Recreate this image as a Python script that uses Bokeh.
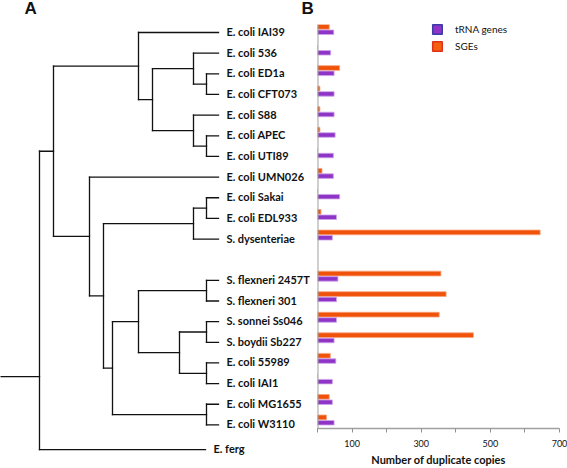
from bokeh.plotting import figure
from bokeh.models import (Range1d, ColumnDataSource, Span, Label, FixedTicker,
                          Legend, LegendItem)
from bokeh.layouts import row
from bokeh.core.properties import value
from bokeh.embed import file_html
from bokeh.resources import INLINE

# ---------------- data ----------------
LEAVES = ["E. coli IAI39", "E. coli 536", "E. coli ED1a", "E. coli CFT073",
          "E. coli S88", "E. coli APEC", "E. coli UTI89", "E. coli UMN026",
          "E. coli Sakai", "E. coli EDL933", "S. dysenteriae",
          "S. flexneri 2457T", "S. flexneri 301", "S. sonnei Ss046",
          "S. boydii Sb227", "E. coli 55989", "E. coli IAI1",
          "E. coli MG1655", "E. coli W3110", "E. ferg"]
ROWS = [0, 1, 2, 3, 4, 5, 6, 7, 8, 9, 10, 12, 13, 14, 15, 16, 17, 18, 19, 20.2]
TIP_DEPTH = [218] * 19 + [205]

# bar chart values (first 19 strains)
TRNA_GENES = [47, 38, 48, 48, 48, 51, 46, 46, 64, 55, 43, 59, 55, 55, 48, 53, 43, 43, 48]
SGES = [34, 0, 64, 7, 7, 7, 0, 13, 0, 10, 644, 357, 372, 352, 451, 37, 0, 34, 26]

X_TICKS = [0, 100, 200, 300, 400, 500, 600, 700]
X_TICK_LABELS = {0: "", 100: "100", 200: "", 300: "300", 400: "", 500: "500", 600: "", 700: "700"}

# tree: (node depth, [children]); leaves are names
TREE = (39, [
    (53, [
        (138, ["E. coli IAI39",
               (152, [
                   (193, ["E. coli 536", (206, ["E. coli ED1a", "E. coli CFT073"])]),
                   (193, ["E. coli S88", (206, ["E. coli APEC", "E. coli UTI89"])]),
               ])]),
        (89, ["E. coli UMN026",
              (103, [
                  (193, [(206, ["E. coli Sakai", "E. coli EDL933"]), "S. dysenteriae"]),
                  (112, [
                      (138, [(206, ["S. flexneri 2457T", "S. flexneri 301"]),
                             (179, [(206, ["S. sonnei Ss046", "S. boydii Sb227"]),
                                    (206, ["E. coli 55989", "E. coli IAI1"])])]),
                      (206, ["E. coli MG1655", "E. coli W3110"]),
                  ]),
              ])]),
    ]),
    "E. ferg",
])
ROOT_STEM_START = 0
ROOT_STEM_ROW = 16.66

# ---------------- tree geometry ----------------
x0s, y0s, x1s, y1s = [], [], [], []


def walk(node):
    if isinstance(node, str):
        i = LEAVES.index(node)
        return ROWS[i], TIP_DEPTH[i]
    depth, children = node
    ys = []
    for c in children:
        cy, cx = walk(c)
        x0s.append(depth); y0s.append(cy); x1s.append(cx); y1s.append(cy)
        ys.append(cy)
    x0s.append(depth); y0s.append(min(ys)); x1s.append(depth); y1s.append(max(ys))
    return (min(ys) + max(ys)) / 2.0, depth


walk(TREE)
x0s.append(ROOT_STEM_START); y0s.append(ROOT_STEM_ROW)
x1s.append(TREE[0]); y1s.append(ROOT_STEM_ROW)

FONT = "Lato"
H = 468

p1 = figure(width=317, height=H, x_range=Range1d(0, 317), y_range=Range1d(21.11, -1.55),
            x_axis_location=None, y_axis_location=None, toolbar_location=None,
            output_backend="svg", min_border=0)
p1.frame_align = False
p1.grid.visible = False
p1.outline_line_color = None
p1.segment(x0=x0s, y0=y0s, x1=x1s, y1=y1s, line_color="#111111", line_width=1.3,
           line_cap="square")
p1.text(x=TIP_DEPTH, y=ROWS, text=LEAVES, x_offset=8, y_offset=-1,
        text_font=value(FONT), text_font_style="bold", text_font_size="11px",
        text_baseline="middle", text_align="left", text_color="#111111")
p1.add_layout(Label(x=24, y=-1.14, text="A", text_font="Liberation Sans",
                    text_font_style="bold", text_font_size="17px",
                    text_baseline="middle", text_color="#111111"))
p1.add_layout(Label(x=301, y=-1.14, text="B", text_font="Liberation Sans",
                    text_font_style="bold", text_font_size="17px",
                    text_baseline="middle", text_color="#111111"))

# ---------------- bar chart ----------------
bar_rows = ROWS[:19]
src = ColumnDataSource(dict(
    y_sge=[r - 0.27 for r in bar_rows],
    y_trna=[r - 0.01 for r in bar_rows],
    sge=SGES, trna=TRNA_GENES))

p2 = figure(width=250, height=H, x_range=Range1d(0, 700), y_range=Range1d(19.27, -0.387),
            y_axis_location=None, toolbar_location=None, output_backend="svg",
            min_border_left=0, min_border_right=8, min_border_top=24, min_border_bottom=38)
p2.frame_align = False
p2.grid.visible = False
p2.outline_line_color = None

p2.hbar(y="y_sge", left=0, right="sge", height=0.23, source=src,
        fill_color="#F0520A", line_color="#F7A27A", line_width=0.8)
p2.hbar(y="y_trna", left=0, right="trna", height=0.22, source=src,
        fill_color="#8E35C8", line_color="#CFA3EA", line_width=0.8)

p2.add_layout(Span(location=0, dimension="height", line_color="#A0A0A0", line_width=2))

# legend keys: renderers whose single bar lies outside the visible range
key_src = ColumnDataSource(dict(y=[100], right=[0]))
r_t = p2.hbar(y="y", left=0, right="right", height=0.2, source=key_src,
              fill_color="#8E35C8", line_color="#3A3AA8", line_width=1.5)
r_s = p2.hbar(y="y", left=0, right="right", height=0.2, source=key_src,
              fill_color="#F26010", line_color="#E0301A", line_width=1.5)
legend = Legend(items=[LegendItem(label="tRNA genes", renderers=[r_t]),
                       LegendItem(label="SGEs", renderers=[r_s])],
                location="top_left", orientation="vertical")
legend.glyph_width = 12
legend.glyph_height = 12
legend.label_height = 12
legend.label_standoff = 12
legend.spacing = 5
legend.padding = 0
legend.margin = 0
legend.border_line_color = None
legend.background_fill_alpha = 0
legend.label_text_font = FONT
legend.label_text_font_size = "10px"
legend.label_text_color = "#111111"
legend.location = (114, 376)
p2.add_layout(legend)

ax = p2.xaxis[0]
ax.ticker = FixedTicker(ticks=X_TICKS)
ax.major_label_overrides = X_TICK_LABELS
ax.minor_tick_line_color = None
ax.axis_line_color = "#A0A0A0"
ax.axis_line_width = 1.5
ax.major_tick_line_color = "#909090"
ax.major_tick_in = 0
ax.major_tick_out = 4
ax.major_label_standoff = 7
ax.major_label_text_font = FONT
ax.major_label_text_font_size = "9px"
ax.major_label_text_color = "#111111"
ax.axis_label = "Number of duplicate copies"
ax.axis_label_text_font = FONT
ax.axis_label_text_font_style = "bold"
ax.axis_label_text_font_size = "11px"
ax.axis_label_text_color = "#111111"
ax.axis_label_standoff = 3

layout = row(p1, p2)
open("out.html", "w").write(file_html(layout, INLINE))
